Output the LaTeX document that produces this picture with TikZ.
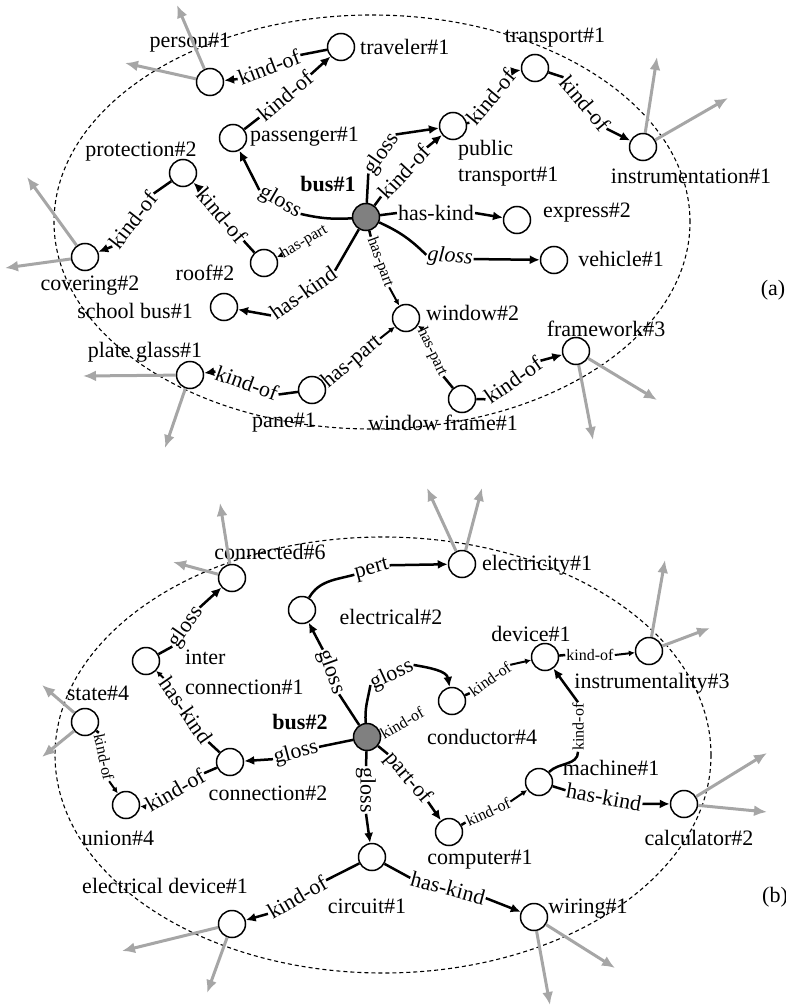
\documentclass[tikz,border=0pt]{standalone}
\usepackage{fontspec}
\setmainfont{Liberation Serif}
\usetikzlibrary{arrows.meta}
\begin{document}
\begin{tikzpicture}[x=1pt,y=1pt,
  nd/.style={circle,draw,line width=1.5pt,minimum size=27pt,inner sep=0pt,fill=white},
  bnd/.style={nd,fill=gray},
  txt/.style={font=\fontsize{22}{26}\selectfont,inner sep=0pt},
  lab/.style={font=\fontsize{22}{26}\selectfont,inner sep=1pt},
  slab/.style={font=\fontsize{16}{18}\selectfont,inner sep=1pt},
  ln/.style={line width=2.5pt},
  ar/.style={line width=2.5pt,-{Latex[length=10pt,width=9pt]}},
  sar/.style={line width=2pt,-{Latex[length=6pt,width=6pt]}},
  ga/.style={draw=gray!70,line width=3pt,-{Latex[length=13pt,width=11pt]}},
  ell/.style={line width=1.1pt,dash pattern=on 4pt off 3pt}
]
\useasboundingbox (0,0) rectangle (786,-1008);
% ellipses
\draw[ell] (372,-222) ellipse [x radius=318, y radius=207];
\draw[ell] (383,-755) ellipse [x radius=328, y radius=218];

% ===== (a) nodes =====
\node[nd] (person) at (210,-82) {};
\node[nd] (traveler) at (341,-47) {};
\node[nd] (passenger) at (233,-138) {};
\node[nd] (protection) at (183,-173) {};
\node[nd] (covering) at (85,-257) {};
\node[nd] (roof) at (264,-263) {};
\node[nd] (school) at (224,-307) {};
\node[nd] (plate) at (190,-375) {};
\node[nd] (pane) at (312,-390) {};
\node[nd] (window) at (406,-318) {};
\node[nd] (wframe) at (462,-399) {};
\node[nd] (framework) at (576,-351) {};
\node[nd] (transport) at (535,-68) {};
\node[nd] (pubtr) at (453,-126) {};
\node[nd] (instr) at (643,-147) {};
\node[bnd] (bus1) at (366,-217) {};
\node[nd] (express) at (517,-220) {};
\node[nd] (vehicle) at (554,-260) {};

% (a) node texts
\node[txt] (tperson) at (190,-43) {person\#1};
\node[txt,anchor=west] (ttraveler) at (360,-47) {traveler\#1};
\node[txt,anchor=west] (tpassenger) at (250,-137) {passenger\#1};
\node[txt] (tprotection) at (141,-152) {protection\#2};
\node[txt] (tcovering) at (90,-286) {covering\#2};
\node[txt] (troof) at (205,-273) {roof\#2};
\node[txt] (tschool) at (135,-311) {school bus\#1};
\node[txt] (tplate) at (145,-352) {plate glass\#1};
\node[txt] (tpane) at (284,-423) {pane\#1};
\node[txt,anchor=west] (twindow) at (426,-313) {window\#2};
\node[txt] (twframe) at (443,-423) {window frame\#1};
\node[txt] (tframework) at (606,-329) {framework\#3};
\node[txt] (ttransport) at (555,-38) {transport\#1};
\node[txt,anchor=west,align=left,font=\fontsize{22}{26}\selectfont] (tpubtr) at (458,-163) {public\\transport\#1};
\node[txt] (tinstr) at (691,-176) {instrumentation\#1};
\node[txt] (tbus1) at (328,-184) {\textbf{bus\#1}};
\node[txt] (texpress) at (587,-213) {express\#2};
\node[txt] (tvehicle) at (621,-259) {vehicle\#1};
\node[txt] (ta) at (773,-290) {(a)};

% (a) gray arrows
\coordinate (gp1) at (177,-5);   \coordinate (gp2) at (125,-63);
\coordinate (gc1) at (27,-177);  \coordinate (gc2) at (5,-268);
\coordinate (gl1) at (83,-376);  \coordinate (gl2) at (165,-448);
\coordinate (gf1) at (593,-440); \coordinate (gf2) at (657,-400);
\coordinate (gi1) at (657,-57);  \coordinate (gi2) at (728,-98);
\draw[ga] (person) -- (gp1); \draw[ga] (person) -- (gp2);
\draw[ga] (covering) -- (gc1); \draw[ga] (covering) -- (gc2);
\draw[ga] (plate) -- (gl1); \draw[ga] (plate) -- (gl2);
\draw[ga] (framework) -- (gf1); \draw[ga] (framework) -- (gf2);
\draw[ga] (instr) -- (gi1); \draw[ga] (instr) -- (gi2);

% (a) edges
\node[lab,rotate=21] (k1) at (269,-67) {kind-of};
\draw[ln] (traveler) -- (k1.east); \draw[ar] (k1.west) -- (person);
\node[lab,rotate=40] (k2) at (285,-96) {kind-of};
\draw[ln] (passenger) -- (k2.west); \draw[ar] (k2.east) -- (traveler);
\node[lab,rotate=-30] (g1) at (280,-202) {gloss};
\draw[ln] (bus1) to[bend left=8] (g1.east); \draw[ar] (g1.west) -- (passenger);
\node[lab,rotate=-50] (k3) at (222,-215) {kind-of};
\draw[ln] (roof) -- (k3.east); \draw[ar] (k3.west) -- (protection);
\node[lab,rotate=52] (k4) at (133,-220) {kind-of};
\draw[ln] (protection) -- (k4.east); \draw[ar] (k4.west) -- (covering);
\node[slab,rotate=30] (hp1) at (304,-242) {has-part};
\draw[sar] (hp1.west) -- (roof);
\node[lab,rotate=35] (hk1) at (303,-293) {has-kind};
\draw[ln] (bus1) -- (hk1.east); \draw[ar] (hk1.west) -- (school);
\node[lab,rotate=-20] (k5) at (247,-383) {kind-of};
\draw[ln] (pane) -- (k5.east); \draw[ar] (k5.west) -- (plate);
\node[lab,rotate=40] (hp2) at (352,-362) {has-part};
\draw[ln] (pane) -- (hp2.west); \draw[sar] (hp2.east) -- (window);
\node[slab,rotate=-70] (hp3) at (380,-262) {has-part};
\draw[ln] (bus1) -- (hp3.west); \draw[sar] (hp3.east) -- (window);
\node[slab,rotate=-65] (hp4) at (432,-352) {has-part};
\draw[ln] (wframe) -- (hp4.east); \draw[sar] (hp4.west) -- (window);
\node[lab,rotate=35] (k6) at (513,-380) {kind-of};
\draw[ln] (wframe) -- (k6.west); \draw[ar] (k6.east) -- (framework);
\node[lab,rotate=55] (g2) at (382,-154) {gloss};
\draw[ln] (bus1) -- (g2.west); \draw[ar] (g2.east) -- (pubtr);
\node[lab,rotate=47] (k7) at (404,-172) {kind-of};
\draw[ln] (bus1) -- (k7.west); \draw[ar] (k7.east) -- (pubtr);
\node[lab] (hk2) at (436,-213) {has-kind};
\draw[ln] (bus1) -- (hk2.west); \draw[ar] (hk2.east) -- (express);
\node[lab,rotate=-5] (g3) at (450,-257) {\textit{gloss}};
\draw[ln] (bus1) to[bend left=10] (g3.west); \draw[ar] (g3.east) -- (vehicle);
\node[lab,rotate=50] (k8) at (491,-97) {kind-of};
\draw[ln] (pubtr) -- (k8.west); \draw[ar] (k8.east) -- (transport);
\node[lab,rotate=-50] (k9) at (585,-103) {kind-of};
\draw[ln] (transport) -- (k9.west); \draw[ar] (k9.east) -- (instr);

% ===== (b) nodes =====
\node[nd] (connected) at (232,-578) {};
\node[nd] (electrical) at (302,-610) {};
\node[nd] (electricity) at (462,-564) {};
\node[nd] (inter) at (146,-661) {};
\node[nd] (state) at (85,-722) {};
\node[nd] (union) at (126,-805) {};
\node[nd] (connection) at (230,-762) {};
\node[bnd] (bus2) at (367,-737) {};
\node[nd] (conductor) at (452,-701) {};
\node[nd] (device) at (545,-657) {};
\node[nd] (instrty) at (649,-651) {};
\node[nd] (machine) at (539,-782) {};
\node[nd] (calc) at (684,-804) {};
\node[nd] (computer) at (449,-832) {};
\node[nd] (circuit) at (372,-857) {};
\node[nd] (edev) at (232,-924) {};
\node[nd] (wiring) at (534,-917) {};

% (b) node texts
\node[txt] (tconnected) at (270,-552) {connected\#6};
\node[txt] (telectrical) at (391,-617) {electrical\#2};
\node[txt] (telectricity) at (537,-565) {electricity\#1};
\node[txt,anchor=west,align=left,font=\fontsize{22}{30}\selectfont] (tinter) at (185,-672) {inter\\connection\#1};
\node[txt] (tstate) at (98,-693) {state\#4};
\node[txt] (tunion) at (118,-838) {union\#4};
\node[txt] (tconnection) at (268,-793) {connection\#2};
\node[txt] (tbus2) at (300,-722) {\textbf{bus\#2}};
\node[txt] (tconductor) at (482,-737) {conductor\#4};
\node[txt] (tdevice) at (531,-634) {device\#1};
\node[txt] (tinstrty) at (652,-683) {instrumentality\#3};
\node[txt] (tmachine) at (611,-768) {machine\#1};
\node[txt] (tcalc) at (699,-838) {calculator\#2};
\node[txt] (tcomputer) at (480,-860) {computer\#1};
\node[txt] (tcircuit) at (367,-906) {circuit\#1};
\node[txt] (tedev) at (165,-886) {electrical device\#1};
\node[txt] (twiring) at (588,-909) {wiring\#1};
\node[txt] (tb) at (775,-897) {(b)};

% (b) gray arrows
\coordinate (gn1) at (220,-503); \coordinate (gn2) at (173,-562);
\coordinate (ge1) at (427,-488); \coordinate (ge2) at (482,-488);
\coordinate (gs1) at (42,-685);  \coordinate (gs2) at (42,-757);
\coordinate (gy1) at (665,-560); \coordinate (gy2) at (710,-628);
\coordinate (gk1) at (767,-753); \coordinate (gk2) at (767,-812);
\coordinate (gd1) at (122,-951); \coordinate (gd2) at (207,-993);
\coordinate (gw1) at (550,-1005); \coordinate (gw2) at (615,-968);
\draw[ga] (connected) -- (gn1); \draw[ga] (connected) -- (gn2);
\draw[ga] (electricity) -- (ge1); \draw[ga] (electricity) -- (ge2);
\draw[ga] (state) -- (gs1); \draw[ga] (state) -- (gs2);
\draw[ga] (instrty) -- (gy1); \draw[ga] (instrty) -- (gy2);
\draw[ga] (calc) -- (gk1); \draw[ga] (calc) -- (gk2);
\draw[ga] (edev) -- (gd1); \draw[ga] (edev) -- (gd2);
\draw[ga] (wiring) -- (gw1); \draw[ga] (wiring) -- (gw2);

% (b) edges
\node[lab,rotate=15] (p1) at (372,-570) {pert};
\draw[ln] (electrical) to[out=60,in=195] (p1.west); \draw[ar] (p1.east) -- (electricity);
\node[lab,rotate=55] (g4) at (186,-627) {gloss};
\draw[ln] (inter) -- (g4.west); \draw[ar] (g4.east) -- (connected);
\node[lab,rotate=-55] (hk3) at (186,-710) {has-kind};
\draw[ln] (connection) -- (hk3.east); \draw[sar] (hk3.west) -- (inter);
\node[slab,rotate=-78] (k10) at (104,-757) {kind-of};
\draw[ln] (state) -- (k10.west); \draw[sar] (k10.east) -- (union);
\node[lab,rotate=30] (k11) at (175,-790) {kind-of};
\draw[ln] (connection) -- (k11.east); \draw[sar] (k11.west) -- (union);
\node[lab,rotate=15] (g5) at (296,-753) {gloss};
\draw[ln] (bus2) -- (g5.east); \draw[ar] (g5.west) -- (connection);
\node[lab,rotate=-70] (g6) at (331,-672) {gloss};
\draw[ln] (bus2) -- (g6.east); \draw[ar] (g6.west) -- (electrical);
\node[lab,rotate=25] (g7) at (392,-675) {gloss};
\draw[ln] (bus2) to[out=95,in=-100] (g7.west); \draw[ar] (g7.east) to[out=-10,in=100] (conductor);
\node[slab,rotate=30] (k12) at (402,-723) {kind-of};
\draw[ln] (bus2) -- (k12.west);
\node[lab,rotate=-50] (po) at (408,-778) {part-of};
\draw[ln] (bus2) -- (po.west); \draw[ar] (po.east) -- (computer);
\node[lab,rotate=-90] (g8) at (366,-790) {gloss};
\draw[ln] (bus2) -- (g8.west); \draw[ar] (g8.east) -- (circuit);
\node[lab,rotate=30] (k13) at (297,-897) {kind-of};
\draw[ln] (circuit) -- (k13.east); \draw[ar] (k13.west) -- (edev);
\node[lab,rotate=-15] (hk4) at (448,-888) {has-kind};
\draw[ln] (circuit) -- (hk4.west); \draw[ar] (hk4.east) -- (wiring);
\node[slab,rotate=25] (k14) at (488,-812) {kind-of};
\draw[ln] (computer) -- (k14.west); \draw[sar] (k14.east) -- (machine);
\node[slab,rotate=90] (k15) at (578,-727) {kind-of};
\draw[ln] (machine) to[out=45,in=-90] (k15.west); \draw[ar] (k15.east) -- (device);
\node[lab,rotate=-10] (hk5) at (604,-797) {has-kind};
\draw[ln] (machine) -- (hk5.west); \draw[ar] (hk5.east) -- (calc);
\node[slab,rotate=35] (k16) at (490,-679) {kind-of};
\draw[ln] (conductor) -- (k16.west); \draw[sar] (k16.east) -- (device);
\node[slab] (k17) at (590,-655) {kind-of};
\draw[ln] (device) -- (k17.west); \draw[sar] (k17.east) -- (instrty);
\end{tikzpicture}
\end{document}
